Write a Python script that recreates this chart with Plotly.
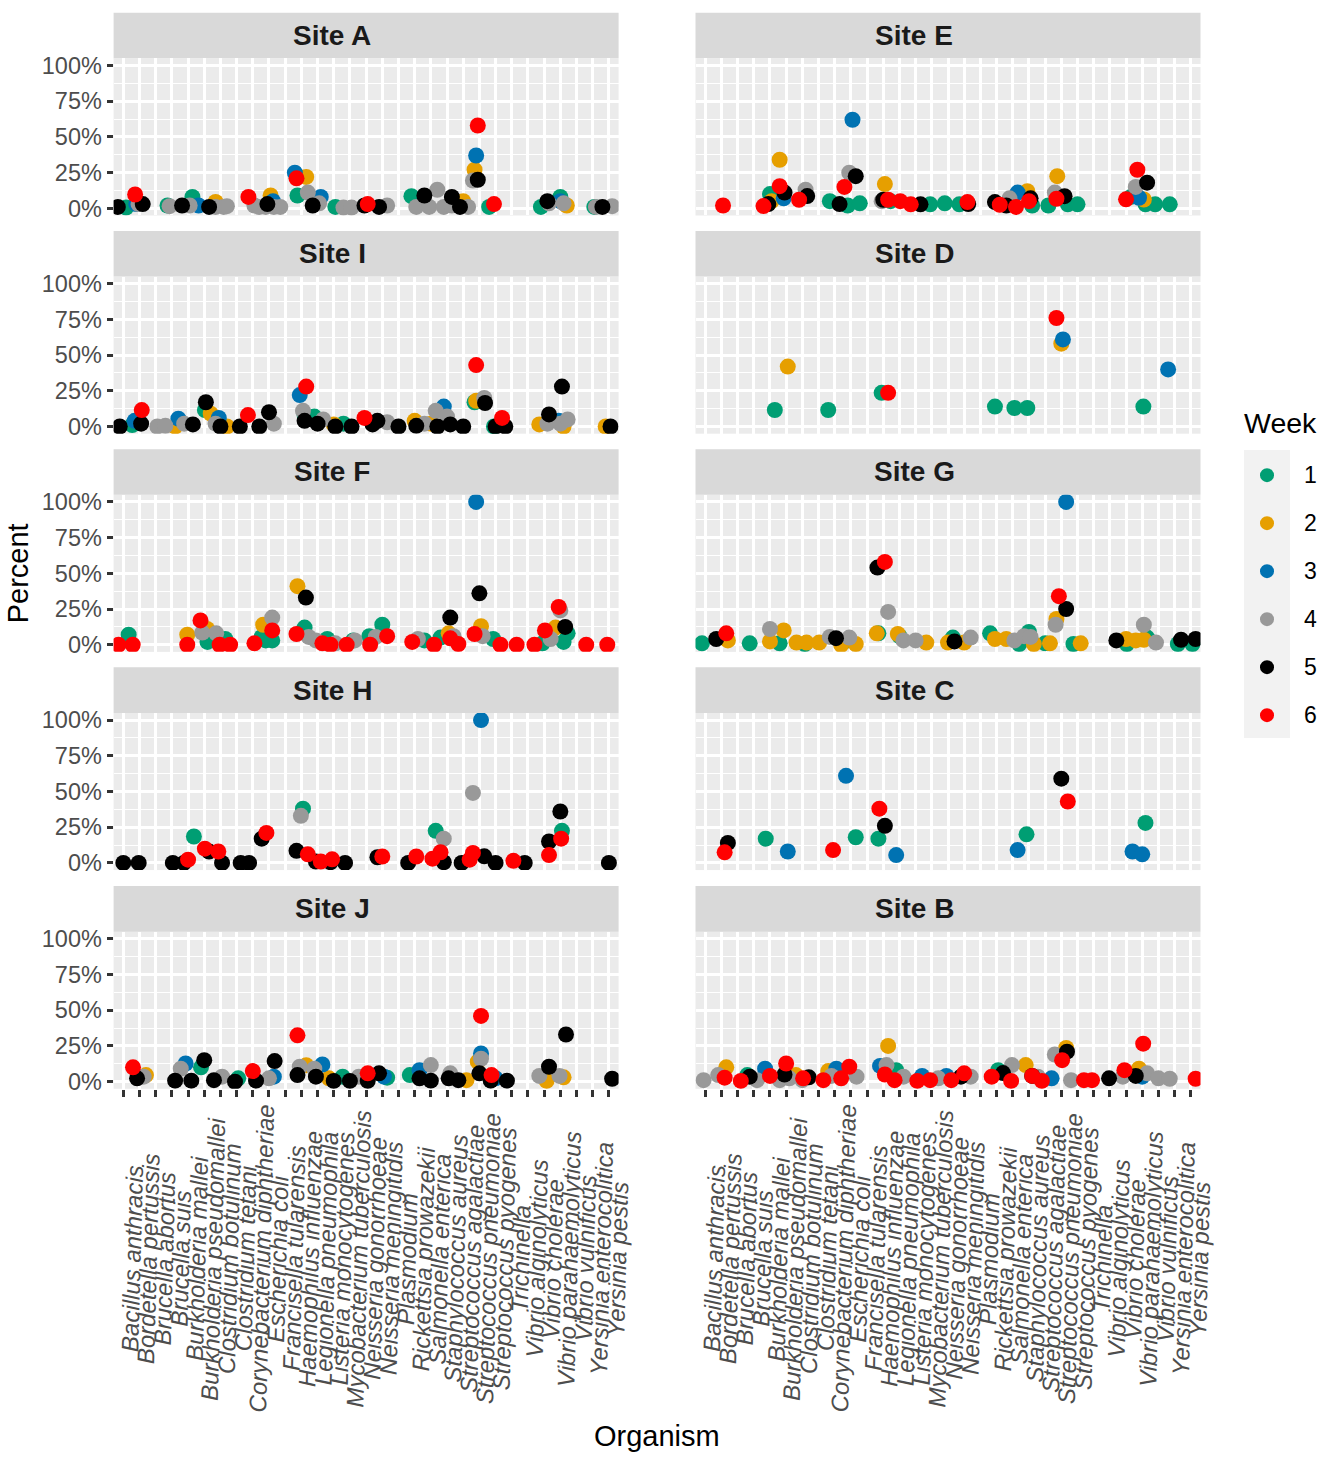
import plotly.graph_objects as go

# ---------------- data ----------------
ORGANISMS = [
    "Bacillus anthracis", "Bordetella pertussis", "Brucella abortus", "Brucella suis",
    "Burkholderia mallei", "Burkholderia pseudomallei", "Clostridium botulinum",
    "Clostridium tetani", "Corynebacterium diphtheriae", "Escherichia coli",
    "Francisella tularensis", "Haemophilus influenzae", "Legionella pneumophila",
    "Listeria monocytogenes", "Mycobacterium tuberculosis", "Neisseria gonorrhoeae",
    "Neisseria meningitidis", "Plasmodium", "Rickettsia prowazekii", "Salmonella enterica",
    "Staphylococcus aureus", "Streptococcus agalactiae", "Streptococcus pneumoniae",
    "Streptococcus pyogenes", "Trichinella", "Vibrio alginolyticus", "Vibrio cholerae",
    "Vibrio parahaemolyticus", "Vibrio vulnificus", "Yersinia enterocolitica", "Yersinia pestis",
]
WEEKS = [1, 2, 3, 4, 5, 6]
WEEK_COLORS = ["#009E73", "#E69F00", "#0072B2", "#999999", "#000000", "#FF0000"]
Y_TICKS = [0, 0.25, 0.5, 0.75, 1.0]
Y_TICK_LABELS = ["0%", "25%", "50%", "75%", "100%"]

# each row: (organism number 1..31, week, percent, jitter)
SITE_A = [
    (1,5,1,-0.34),(1,1,0.5,0.17),(2,6,9.7,-0.27),(2,3,3,-0.2),(2,4,3,-0.06),(2,5,3,0.2),
    (4,1,2,-0.27),(4,4,1.5,-0.14),(5,5,2,-0.37),(5,4,2,0.1),(5,1,8,0.27),(6,3,2,-0.35),
    (6,5,1,0.3),(7,2,4.5,-0.3),(7,4,1,-0.3),(7,4,1,0.2),(7,4,1.5,0.4),(9,6,8,-0.27),
    (10,2,9,0.1),(10,3,5,0.25),(10,5,3,-0.1),(9,4,2,0.1),(9,4,1,0.4),(10,4,1,-0.2),
    (10,4,1,0.3),(11,4,1,-0.3),(12,3,25,-0.4),(12,6,21,-0.3),(12,2,22,0.3),(12,1,9,-0.24),
    (12,4,11,0.4),(13,5,2,-0.3),(13,3,8,0.2),(13,4,3.5,0.1),(14,1,1,0.1),(15,4,0.5,-0.4),
    (15,4,0.5,0.1),(16,5,2,-0.1),(16,6,3,0.1),(17,5,1,-0.2),(17,4,2,0.3),(19,1,8.5,-0.2),
    (20,5,9,-0.4),(19,4,1,0.1),(20,4,1,-0.1),(20,4,13,0.4),(21,4,1,-0.2),(21,4,2,0.3),
    (21,5,8,0.3),(22,5,1,-0.2),(22,2,5,0.0),(22,4,1,0.3),(23,4,19.5,-0.4),(23,2,27,-0.3),
    (23,3,37,-0.2),(23,5,20,-0.1),(23,6,58,-0.1),(24,1,1,-0.4),(24,6,3,-0.1),(27,1,1,-0.2),
    (27,5,5,0.2),(27,4,3.5,0.3),(28,1,8,0.0),(28,3,5,0.0),(28,4,3.5,0.2),(28,2,2,0.4),
    (30,1,1,0.1),(30,4,1,0.2),(31,5,1,-0.4),(31,4,1.5,0.2),
]
SITE_I = [
    (1,5,0,-0.22),(2,1,1,-0.45),(2,3,4,-0.3),(2,6,11.5,0.14),(2,5,2,0.1),(3,4,0,0.1),
    (4,4,0.5,-0.4),(4,2,0,0.2),(4,3,5.5,0.4),(5,4,2,-0.24),(5,5,1.5,0.3),(6,1,11.5,0.04),
    (6,5,17,0.1),(6,2,9,0.4),(7,3,6,-0.1),(7,4,2,-0.3),(7,5,0,0.0),(7,2,0,0.4),(8,5,0,0.2),
    (9,6,8,-0.3),(9,5,0,0.4),(10,5,10,0.0),(10,4,2,0.3),(12,3,22,-0.1),(12,6,28,0.3),
    (12,4,11,0.1),(12,1,8,0.2),(12,5,4,0.2),(13,1,7,-0.2),(13,5,2,0.0),(13,4,5,0.35),
    (14,2,1.5,0.0),(14,5,0,0.1),(15,1,2,-0.4),(15,5,0,0.1),(16,6,6,-0.1),(16,5,1.5,0.4),
    (17,5,4,-0.3),(17,4,3,0.3),(18,5,0,0.0),(19,2,4,0.0),(19,5,0.5,0.1),(20,4,2,-0.4),
    (20,2,2,0.0),(20,4,11,0.3),(20,5,0,0.4),(21,3,14,-0.2),(21,4,7,0.0),(21,5,1.5,0.2),
    (22,5,0,0.0),(23,1,17,-0.3),(23,2,18,-0.2),(23,6,43,-0.2),(23,4,20,0.3),(23,5,16.5,0.35),
    (24,1,0,-0.1),(24,5,0,0.0),(24,6,6,0.4),(25,5,0,-0.4),(27,2,1.5,-0.3),(27,4,2,0.2),
    (27,5,8.5,0.3),(28,3,4,-0.1),(28,4,2,0.0),(28,5,28,0.1),(28,2,0,0.2),(28,4,5,0.45),
    (31,2,0,-0.2),(31,5,0,0.1),
]
SITE_F = [
    (1,6,0,-0.3),(1,1,7,0.33),(2,6,0,-0.42),(5,2,7,-0.05),(5,6,0,-0.05),(6,6,17,-0.23),
    (6,4,8.5,-0.12),(6,2,11,0.18),(6,1,2,0.2),(7,4,8,-0.26),(7,1,4,0.3),(7,6,0,-0.05),
    (8,6,0,-0.4),(9,6,1,0.1),(10,1,5.5,-0.45),(10,2,14,-0.36),(10,4,19,0.2),(10,6,10,0.2),
    (10,1,3,-0.2),(10,1,3,0.2),(12,2,41,-0.24),(12,5,33,0.28),(12,6,7.5,-0.3),(12,1,12,0.2),
    (12,4,5.5,0.45),(13,4,3,-0.1),(13,6,1,0.3),(14,1,4,-0.4),(14,6,0,-0.2),(14,4,1,0.1),
    (15,6,0,-0.2),(15,4,3,0.3),(15,1,3,0.2),(16,1,6,0.2),(16,6,0,0.25),(17,4,5.5,-0.4),
    (17,1,14,0.0),(17,6,6,0.3),(19,6,2,-0.15),(19,4,4,0.2),(20,1,3,-0.4),(20,6,0,0.2),
    (21,1,5,-0.4),(21,2,8,0.1),(21,5,19,0.2),(21,4,6,0.4),(21,6,4.5,0.2),(22,6,0.5,-0.3),
    (23,3,100,-0.2),(23,5,36,0.0),(23,2,13,0.1),(23,4,6,0.2),(23,6,7.5,-0.3),(24,1,4,-0.15),
    (24,6,0,0.3),(25,6,0,0.3),(26,6,0,0.4),(27,1,1,-0.1),(27,6,10,0.05),(27,4,4,0.4),
    (28,2,12,-0.3),(28,6,26.5,-0.1),(28,4,24,0.0),(28,5,12.5,0.3),(28,1,2,0.2),(28,1,8,0.45),
    (30,6,0,-0.4),(31,6,0,-0.1),
]
SITE_H = [
    (1,5,0,0.0),(2,5,0,-0.05),(4,5,0,0.06),(5,5,0,-0.26),(5,6,2.3,0.0),(5,1,18.5,0.36),
    (6,6,10,0.04),(6,5,8,0.3),(7,6,8,-0.13),(7,5,0,0.1),(8,5,0,0.25),(9,5,0,-0.23),
    (10,5,17,-0.45),(10,6,21,-0.16),(12,4,33,-0.03),(12,1,38,0.1),(12,5,8.5,-0.3),
    (12,6,6,0.4),(13,5,1,-0.1),(13,6,1,0.2),(14,5,0.5,-0.2),(14,6,2.5,-0.1),(15,5,0,-0.3),
    (17,5,4,-0.3),(17,6,4.5,0.0),(19,5,0,-0.4),(19,6,4.5,0.1),(20,6,3,0.1),(20,1,22.5,0.3),
    (21,4,17,-0.2),(21,5,0.5,-0.2),(21,6,7.5,-0.4),(22,5,0,-0.1),(22,6,2.3,0.4),(23,6,7,-0.4),
    (23,4,49,-0.4),(23,3,100,0.1),(23,5,4.6,0.3),(24,5,0,0.0),(25,6,1.5,0.1),(26,5,0,-0.2),
    (27,5,15,0.3),(27,6,5.5,0.3),(28,5,36,0.0),(28,1,22.5,0.1),(28,6,17,0.05),(31,5,0,0.0),
]
SITE_J = [
    (2,6,10,-0.4),(2,5,2.3,-0.15),(2,4,3.5,0.26),(2,2,4.6,0.4),(4,5,0.7,0.2),(5,4,9,-0.45),
    (5,3,12.7,-0.15),(5,5,0.7,0.2),(6,1,10,-0.2),(6,5,15,0.0),(7,5,1,-0.4),(7,4,3.5,0.1),
    (8,5,0,-0.1),(8,1,2.3,0.1),(9,6,7.4,0.0),(9,5,0.7,0.2),(10,4,2.3,0.0),(10,3,3.5,0.3),
    (10,5,14.4,0.35),(12,4,10.4,-0.1),(12,2,11.5,0.3),(12,6,32.4,-0.24),(12,5,4.6,-0.24),
    (13,4,9,-0.2),(13,3,12,0.3),(13,5,3.5,-0.1),(14,2,2.3,-0.3),(14,5,0.5,0.0),(15,1,3.5,-0.45),
    (15,5,0.5,0.0),(16,4,3.5,-0.45),(16,6,5.8,0.1),(16,5,0.5,0.1),(17,5,5.8,-0.2),(17,3,3.5,0.1),
    (17,1,2.8,0.3),(19,1,4.6,-0.3),(19,3,8,0.3),(19,5,2.3,0.3),(20,4,11.6,0.0),(20,5,0.7,0.0),
    (21,4,5.8,0.2),(21,5,2.3,0.1),(22,5,1,-0.3),(22,2,1,0.2),(23,2,14,-0.1),(23,4,16,0.1),
    (23,3,19.7,0.1),(23,6,46,0.1),(23,5,5.8,0.0),(24,6,4.6,-0.25),(24,3,2.3,0.0),(24,5,0.7,-0.3),
    (25,5,0.7,-0.3),(27,4,4,-0.3),(27,2,0.5,0.15),(27,5,10.4,0.3),(28,4,4,-0.05),(28,2,3,0.2),
    (28,5,33,0.35),(31,5,2,0.2),
]
SITE_E = [
    (2,6,2,0.1),(5,6,1.6,-0.4),(5,5,3,-0.1),(5,2,5,0.1),(5,1,10,0.0),(6,2,34,-0.4),
    (6,6,15.5,-0.4),(6,5,11,-0.1),(6,3,7,-0.15),(7,4,13,0.2),(7,5,8.6,0.3),(7,6,6,-0.2),
    (9,1,5,-0.3),(9,5,3,0.3),(10,6,15,-0.4),(10,4,25,-0.1),(10,5,22.5,0.3),(10,3,62,0.1),
    (10,1,2,-0.2),(11,1,3.5,-0.45),(12,2,17,0.1),(12,4,5,-0.1),(12,5,6,0.0),(12,6,6,0.3),
    (12,1,5,0.45),(13,6,5,0.05),(14,6,2.8,-0.3),(14,5,2.8,0.3),(15,1,2.8,-0.1),(16,1,3.5,-0.2),
    (17,1,2.8,-0.3),(17,6,4.4,0.2),(17,5,3,0.25),(19,5,4.4,-0.1),(19,6,2.5,0.2),(20,5,2,-0.4),
    (20,4,7,-0.2),(20,3,11,0.3),(20,6,1,0.2),(21,2,12,-0.1),(21,5,7,0.1),(21,6,5,0.0),
    (21,1,2,0.2),(22,1,2,0.2),(23,4,11,-0.4),(23,2,22.5,-0.25),(23,5,8.5,0.2),(23,6,6.7,-0.3),
    (23,1,2.8,0.4),(24,1,2.8,0.0),(27,6,6.3,0.0),(27,1,8,0.3),(28,4,15,-0.4),(28,6,27,-0.3),
    (28,3,7.4,-0.2),(28,2,6.2,0.1),(28,5,18,0.3),(28,1,2.8,0.2),(29,1,2.8,-0.2),(30,1,2.8,-0.3),
]
SITE_D = [
    (5,1,11.6,0.3),(6,2,42,0.1),(9,1,11.6,-0.4),(12,1,23.6,-0.1),(12,6,23.6,0.3),
    (19,1,14,-0.1),(20,1,13,0.1),(21,1,13,-0.1),(23,6,76,-0.3),(23,2,58,0.0),(23,3,61,0.1),
    (28,1,14,0.07),(30,3,40,-0.4),
]
SITE_G = [
    (1,1,1,-0.2),(2,5,4,-0.32),(2,6,8,0.3),(2,2,3,0.4),(4,1,1,-0.25),(5,4,11,0.0),
    (5,2,2.3,0.0),(6,2,10,-0.15),(6,1,1,-0.4),(7,2,1.5,-0.36),(7,1,0.5,0.15),(7,2,1.5,0.26),
    (8,2,1.5,0.04),(9,4,5.5,-0.3),(9,5,4.6,0.08),(9,2,0,0.4),(10,1,3,-0.2),(10,4,5,-0.1),
    (10,2,0.5,0.3),(12,2,8,-0.4),(12,1,8,-0.3),(12,5,54,-0.36),(12,6,58,0.1),(12,4,23,0.3),
    (13,2,7.5,-0.1),(13,1,6,0.0),(13,4,3,0.25),(14,4,3,0.0),(15,2,1.5,-0.34),(16,2,1.5,0.0),
    (16,1,5,0.3),(16,5,2.3,0.4),(17,2,1.5,0.0),(17,4,5,0.4),(19,1,8,-0.4),(19,2,4,-0.1),
    (20,2,4,-0.4),(20,4,3,0.1),(20,1,0.5,0.4),(21,4,6,-0.3),(21,1,9,0.0),(21,4,5.5,0.1),
    (21,2,0.5,0.3),(22,1,1,0.0),(22,2,1,0.3),(23,4,14,-0.35),(23,2,18,-0.3),(23,6,34,-0.15),
    (23,5,25,0.3),(23,3,100,0.3),(24,1,0.5,-0.25),(24,2,1,0.2),(26,5,3,0.4),(27,1,0.5,0.05),
    (27,2,4,0.0),(28,2,3,-0.4),(28,1,5,0.3),(28,2,3.5,0.1),(28,4,14,0.1),(29,4,1.5,-0.15),
    (30,1,0.5,0.2),(30,5,3.5,0.4),(31,1,0.5,0.1),(31,5,4,0.3),
]
SITE_C = [
    (2,6,7.4,0.2),(2,5,14,0.4),(5,1,17,-0.26),(6,3,8,0.1),(10,3,61,-0.3),(9,6,9,-0.1),
    (10,1,18,0.3),(12,6,38,-0.24),(12,5,26,0.1),(12,1,17,-0.3),(13,3,5.5,-0.2),(20,3,9,0.3),
    (21,1,20,-0.15),(23,5,59,0.0),(23,6,43,0.4),(28,1,28,0.2),(27,3,8,0.4),(28,3,6,0.0),
]
SITE_B = [
    (1,4,1,-0.1),(2,4,4.6,-0.2),(2,2,10,0.3),(2,6,2.8,0.2),(3,6,0.5,0.2),(4,1,4.6,-0.4),
    (4,5,3.5,-0.25),(4,4,1,0.2),(5,3,9,-0.3),(5,6,4,0.0),(6,4,1,-0.4),(6,5,5,-0.1),
    (6,6,12.7,0.0),(6,4,2.3,0.2),(7,2,4.6,-0.4),(7,4,1,0.0),(7,6,2.3,0.05),(7,5,3,0.4),
    (8,6,1,0.3),(9,2,7.4,-0.4),(9,4,4,-0.2),(9,3,9,0.1),(9,6,2.3,0.4),(10,6,10.4,-0.1),
    (10,4,3.5,0.35),(12,3,11,-0.2),(12,4,11.6,0.2),(12,2,25,0.3),(12,6,5,0.1),(13,1,8,-0.2),
    (13,6,1,-0.3),(13,4,3.5,0.25),(14,6,0.5,0.1),(14,3,4,0.4),(15,6,1,-0.1),(15,4,2.3,0.4),
    (16,3,4,-0.1),(16,6,1,0.2),(17,5,3.5,-0.2),(17,6,5.8,0.0),(17,4,3.5,0.4),(19,6,3.5,-0.3),
    (19,1,8,0.1),(19,5,6,0.4),(20,4,11.6,-0.05),(20,6,0.5,-0.1),(21,2,11.6,-0.2),(21,5,4,0.2),
    (21,6,4,0.2),(22,4,3.5,-0.45),(22,6,0.5,-0.2),(22,3,2.3,0.4),(23,4,19,-0.4),(23,2,23.6,0.3),
    (23,5,21,0.35),(23,6,15,0.05),(24,4,1,-0.4),(24,6,1,0.4),(25,6,1,-0.1),(26,5,2.3,-0.05),
    (27,4,3.5,-0.2),(27,6,8,-0.1),(28,2,9,-0.2),(28,5,4,-0.4),(28,6,26.6,0.06),(28,3,3.5,0.0),
    (28,4,5.8,0.3),(29,4,2.3,0.0),(30,4,2,-0.3),(31,6,2,0.3),
]

# facet order: left column top->bottom, right column top->bottom
LEFT_PANELS = [("Site A", SITE_A), ("Site I", SITE_I), ("Site F", SITE_F),
               ("Site H", SITE_H), ("Site J", SITE_J)]
RIGHT_PANELS = [("Site E", SITE_E), ("Site D", SITE_D), ("Site G", SITE_G),
                ("Site C", SITE_C), ("Site B", SITE_B)]

# ---------------- layout geometry (pixels) ----------------
W, H = 1325, 1467
COL_X = [(113.6, 618.6), (695.5, 1200.5)]
ROW_TOP100 = [60, 280, 500, 720, 940.5]
UNIT = 144.0
STRIP_H = 46
STRIP_TEXT_OFFSET = -34
FONT = "Liberation Sans, Arial, Helvetica, sans-serif"


def py(p):
    return 1 - p / H


def pxx(p):
    return p / W


fig = go.Figure()
shapes = []
annotations = []
layout_axes = {}

panel_id = 0
for col, panels in enumerate([LEFT_PANELS, RIGHT_PANELS]):
    for row, (site, rows) in enumerate(panels):
        panel_id += 1
        i = panel_id
        x0, x1 = COL_X[col]
        t100 = ROW_TOP100[row]
        top = t100 - 0.05 * UNIT
        bot = t100 + UNIT + 0.05 * UNIT
        bottom_row = row == len(panels) - 1
        xname = "xaxis" if i == 1 else f"xaxis{i}"
        yname = "yaxis" if i == 1 else f"yaxis{i}"
        xref = "x" if i == 1 else f"x{i}"
        yref = "y" if i == 1 else f"y{i}"

        layout_axes[xname] = dict(
            domain=[pxx(x0), pxx(x1)], range=[0.4, 31.6], anchor=yref,
            tickmode="array", tickvals=list(range(1, len(ORGANISMS) + 1)),
            ticktext=[""] * len(ORGANISMS), showticklabels=False,
            ticks="outside" if bottom_row else "", ticklen=7, tickwidth=2.6,
            tickcolor="#333333", showgrid=True, gridcolor="white", gridwidth=2.6,
            zeroline=False, showline=False, fixedrange=True,
        )
        layout_axes[yname] = dict(
            domain=[py(bot), py(top)], range=[-0.05, 1.05], anchor=xref,
            tickmode="array", tickvals=Y_TICKS, ticktext=Y_TICK_LABELS,
            showticklabels=(col == 0), ticks="outside" if col == 0 else "",
            ticklen=6, tickwidth=2.6, tickcolor="#333333",
            tickfont=dict(size=23.5, color="#4D4D4D", family=FONT),
            showgrid=True, gridcolor="white", gridwidth=2.6,
            minor=dict(dtick=0.125, tick0=0, showgrid=True, gridcolor="white", gridwidth=1.3),
            zeroline=False, showline=False, fixedrange=True,
        )

        # points, one trace per week
        for w, colr in zip(WEEKS, WEEK_COLORS):
            pts = [r for r in rows if r[1] == w]
            if not pts:
                continue
            fig.add_trace(go.Scatter(
                x=[r[0] + r[3] for r in pts], y=[r[2] / 100 for r in pts],
                mode="markers", name=f"Week {w}", legendgroup=str(w), showlegend=False,
                marker=dict(color=colr, size=16, line=dict(width=0)),
                xaxis=xref, yaxis=yref,
                hovertext=[f"{site}<br>{ORGANISMS[r[0]-1]}<br>Week {w}: {r[2]}%" for r in pts],
                hoverinfo="text",
            ))

        # strip
        shapes.append(dict(type="rect", xref="paper", yref="paper",
                           x0=pxx(x0), x1=pxx(x1), y0=py(top), y1=py(top - STRIP_H),
                           fillcolor="#D9D9D9", line=dict(width=0), layer="below"))
        annotations.append(dict(x=pxx((x0 + x1) / 2 + STRIP_TEXT_OFFSET), y=py(top - STRIP_H / 2),
                                xref="paper", yref="paper", text=f"<b>{site}</b>",
                                showarrow=False, xanchor="center", yanchor="middle",
                                font=dict(size=28, color="#1A1A1A", family=FONT)))

        # x tick labels for bottom row (centered, nearly vertical)
        if bottom_row:
            for k, name in enumerate(ORGANISMS, start=1):
                annotations.append(dict(
                    x=k, xref=xref, y=py(1263), yref="paper", text=name,
                    textangle=-88.5, showarrow=False, xanchor="center", yanchor="middle",
                    xshift=9,
                    font=dict(size=24, color="#4D4D4D", family=FONT, style="italic")))

# axis titles
annotations.append(dict(x=pxx(657), y=py(1442), xref="paper", yref="paper", text="Organism",
                        showarrow=False, xanchor="center", yanchor="middle",
                        font=dict(size=29, color="black", family=FONT)))
annotations.append(dict(x=pxx(18), y=py(572), xref="paper", yref="paper", text="Percent",
                        textangle=-90, showarrow=False, xanchor="center", yanchor="middle",
                        font=dict(size=29, color="black", family=FONT)))

# legend (built on its own small axis pair)
LEG_TOP, LEG_BOT = 448, 738
KEY0, KEYSTEP = 473, 48.4
lo = 1 + (LEG_BOT - KEY0) / KEYSTEP
hi = 1 - (KEY0 - LEG_TOP) / KEYSTEP
layout_axes["xaxis11"] = dict(domain=[pxx(1244), pxx(1290)], range=[0, 1], anchor="y11",
                              visible=False, fixedrange=True)
layout_axes["yaxis11"] = dict(domain=[py(LEG_BOT), py(LEG_TOP)], range=[lo, hi], anchor="x11",
                              visible=False, fixedrange=True)
shapes.append(dict(type="rect", xref="paper", yref="paper", x0=pxx(1244), x1=pxx(1290),
                   y0=py(LEG_BOT), y1=py(LEG_TOP), fillcolor="#F2F2F2",
                   line=dict(width=0), layer="below"))
fig.add_trace(go.Scatter(x=[0.5] * len(WEEKS), y=WEEKS, mode="markers",
                         marker=dict(color=WEEK_COLORS, size=14, line=dict(width=0)),
                         xaxis="x11", yaxis="y11", showlegend=False, hoverinfo="skip",
                         cliponaxis=False))
for w in WEEKS:
    annotations.append(dict(x=pxx(1310), xref="paper", y=w, yref="y11", text=str(w),
                            showarrow=False, xanchor="center", yanchor="middle",
                            font=dict(size=23, color="black", family=FONT)))
annotations.append(dict(x=pxx(1280), y=py(420), xref="paper", yref="paper", text="Week",
                        showarrow=False, xanchor="center", yanchor="middle",
                        font=dict(size=28.5, color="black", family=FONT)))

fig.update_layout(
    width=W, height=H, margin=dict(l=0, r=0, t=0, b=0, pad=0),
    paper_bgcolor="white", plot_bgcolor="#EBEBEB", showlegend=False,
    font=dict(family=FONT), shapes=shapes, annotations=annotations, **layout_axes,
)

fig.write_html("out.html", config={"displayModeBar": False},
               post_script="document.body.style.margin='0';document.body.style.overflow='hidden';")
